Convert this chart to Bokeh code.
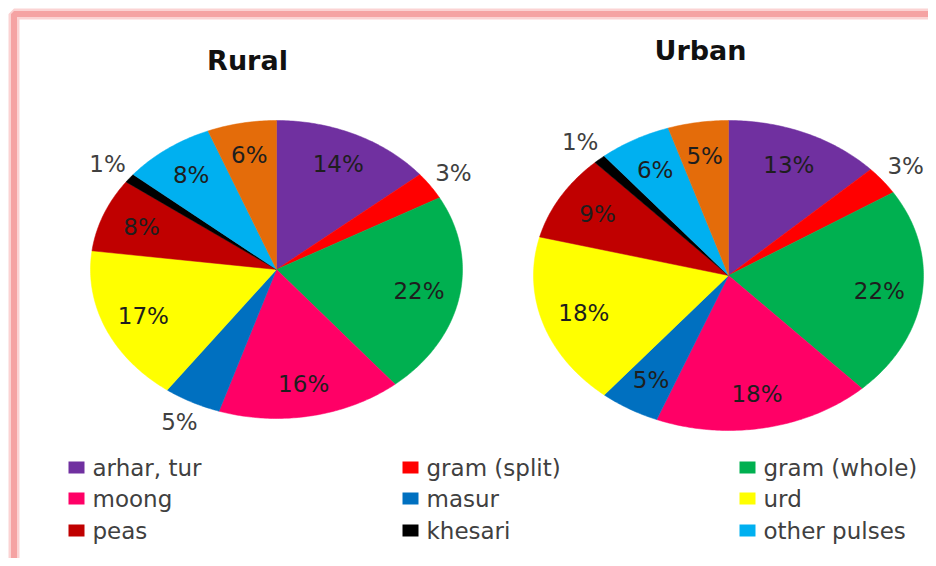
import numpy as np
from bokeh.plotting import figure
from bokeh.models import Range1d
from bokeh.core.properties import value
from bokeh.embed import file_html
from bokeh.resources import INLINE

# ---- data ----
categories = ["arhar, tur", "gram (split)", "gram (whole)", "moong", "masur",
              "urd", "peas", "khesari", "other pulses", "others"]
rural_pct = [14, 3, 22, 16, 5, 17, 8, 1, 8, 6]
urban_pct = [13, 3, 22, 18, 5, 18, 9, 1, 6, 5]
colors = ["#7030A0", "#FF0000", "#00B050", "#FF0066", "#0070C0",
          "#FFFF00", "#C00000", "#000000", "#00B0F0", "#E46C0A"]
rural_label_outside = [False, True, False, False, True, False, False, True, False, False]
urban_label_outside = [False, True, False, False, False, False, False, True, False, False]
legend_categories = categories[:9]
titles = ["Rural", "Urban"]

# ---- figure (data coords == screenshot pixel coords) ----
W, H = 928, 558
p = figure(width=W, height=H, output_backend="svg", toolbar_location=None,
           x_range=Range1d(0, W), y_range=Range1d(H, 0),
           min_border=0, background_fill_color="white", border_fill_color="white")
p.axis.visible = False
p.grid.visible = False
p.outline_line_color = None

# pink frame (cut at right / bottom)
p.quad(left=[13.5], right=[1200], top=[13.5], bottom=[1200], fill_color=None,
       line_color="#FBD3D3", line_width=11)
p.quad(left=[13.5], right=[1200], top=[13.5], bottom=[1200], fill_color=None,
       line_color="#F5A3A3", line_width=6)


def draw_pie(vals, outside, cx, cy, rx, ry, title, tx, ty):
    vals = np.asarray(vals, dtype=float)
    frac = vals / vals.sum()
    ends = np.cumsum(frac) * 2 * np.pi
    starts = ends - frac * 2 * np.pi
    xs, ys = [], []
    for s, e in zip(starts, ends):
        t = np.linspace(s, e, max(int((e - s) * 80), 4))
        xs.append(np.concatenate([[cx], cx + rx * np.sin(t)]).tolist())
        ys.append(np.concatenate([[cy], cy - ry * np.cos(t)]).tolist())
    p.patches(xs, ys, fill_color=colors, line_color=colors, line_width=0.5)
    mids = (starts + ends) / 2
    for i, m in enumerate(mids):
        f = 1.15 if outside[i] else 0.78
        lx = cx + f * rx * np.sin(m)
        ly = cy - f * ry * np.cos(m)
        p.text(x=[lx], y=[ly], text=[f"{int(vals[i])}%"],
               text_font=value("DejaVu Sans"), text_font_size=value("23px"),
               text_color="#404040" if outside[i] else "#1E1E1E",
               text_align="center", text_baseline="middle")
    p.text(x=[tx], y=[ty], text=[title], text_font=value("DejaVu Sans"),
           text_font_size=value("27px"), text_font_style="bold",
           text_color="#111111", text_align="center", text_baseline="middle")


draw_pie(rural_pct, rural_label_outside, 276, 269, 186, 149, titles[0], 247, 60)
draw_pie(urban_pct, urban_label_outside, 728, 275, 195, 155, titles[1], 700, 50)

# ---- legend (3 columns) ----
col_x = [68, 402, 739]
row_y = [467, 498, 530]
for i, name in enumerate(legend_categories):
    r, c = divmod(i, 3)
    p.rect(x=[col_x[c] + 8], y=[row_y[r]], width=16, height=12,
           fill_color=colors[i], line_color=None)
    p.text(x=[col_x[c] + 24], y=[row_y[r]], text=[name],
           text_font=value("DejaVu Sans"), text_font_size=value("23px"),
           text_color="#404040", text_align="left", text_baseline="middle")

open("out.html", "w").write(file_html(p, INLINE))
